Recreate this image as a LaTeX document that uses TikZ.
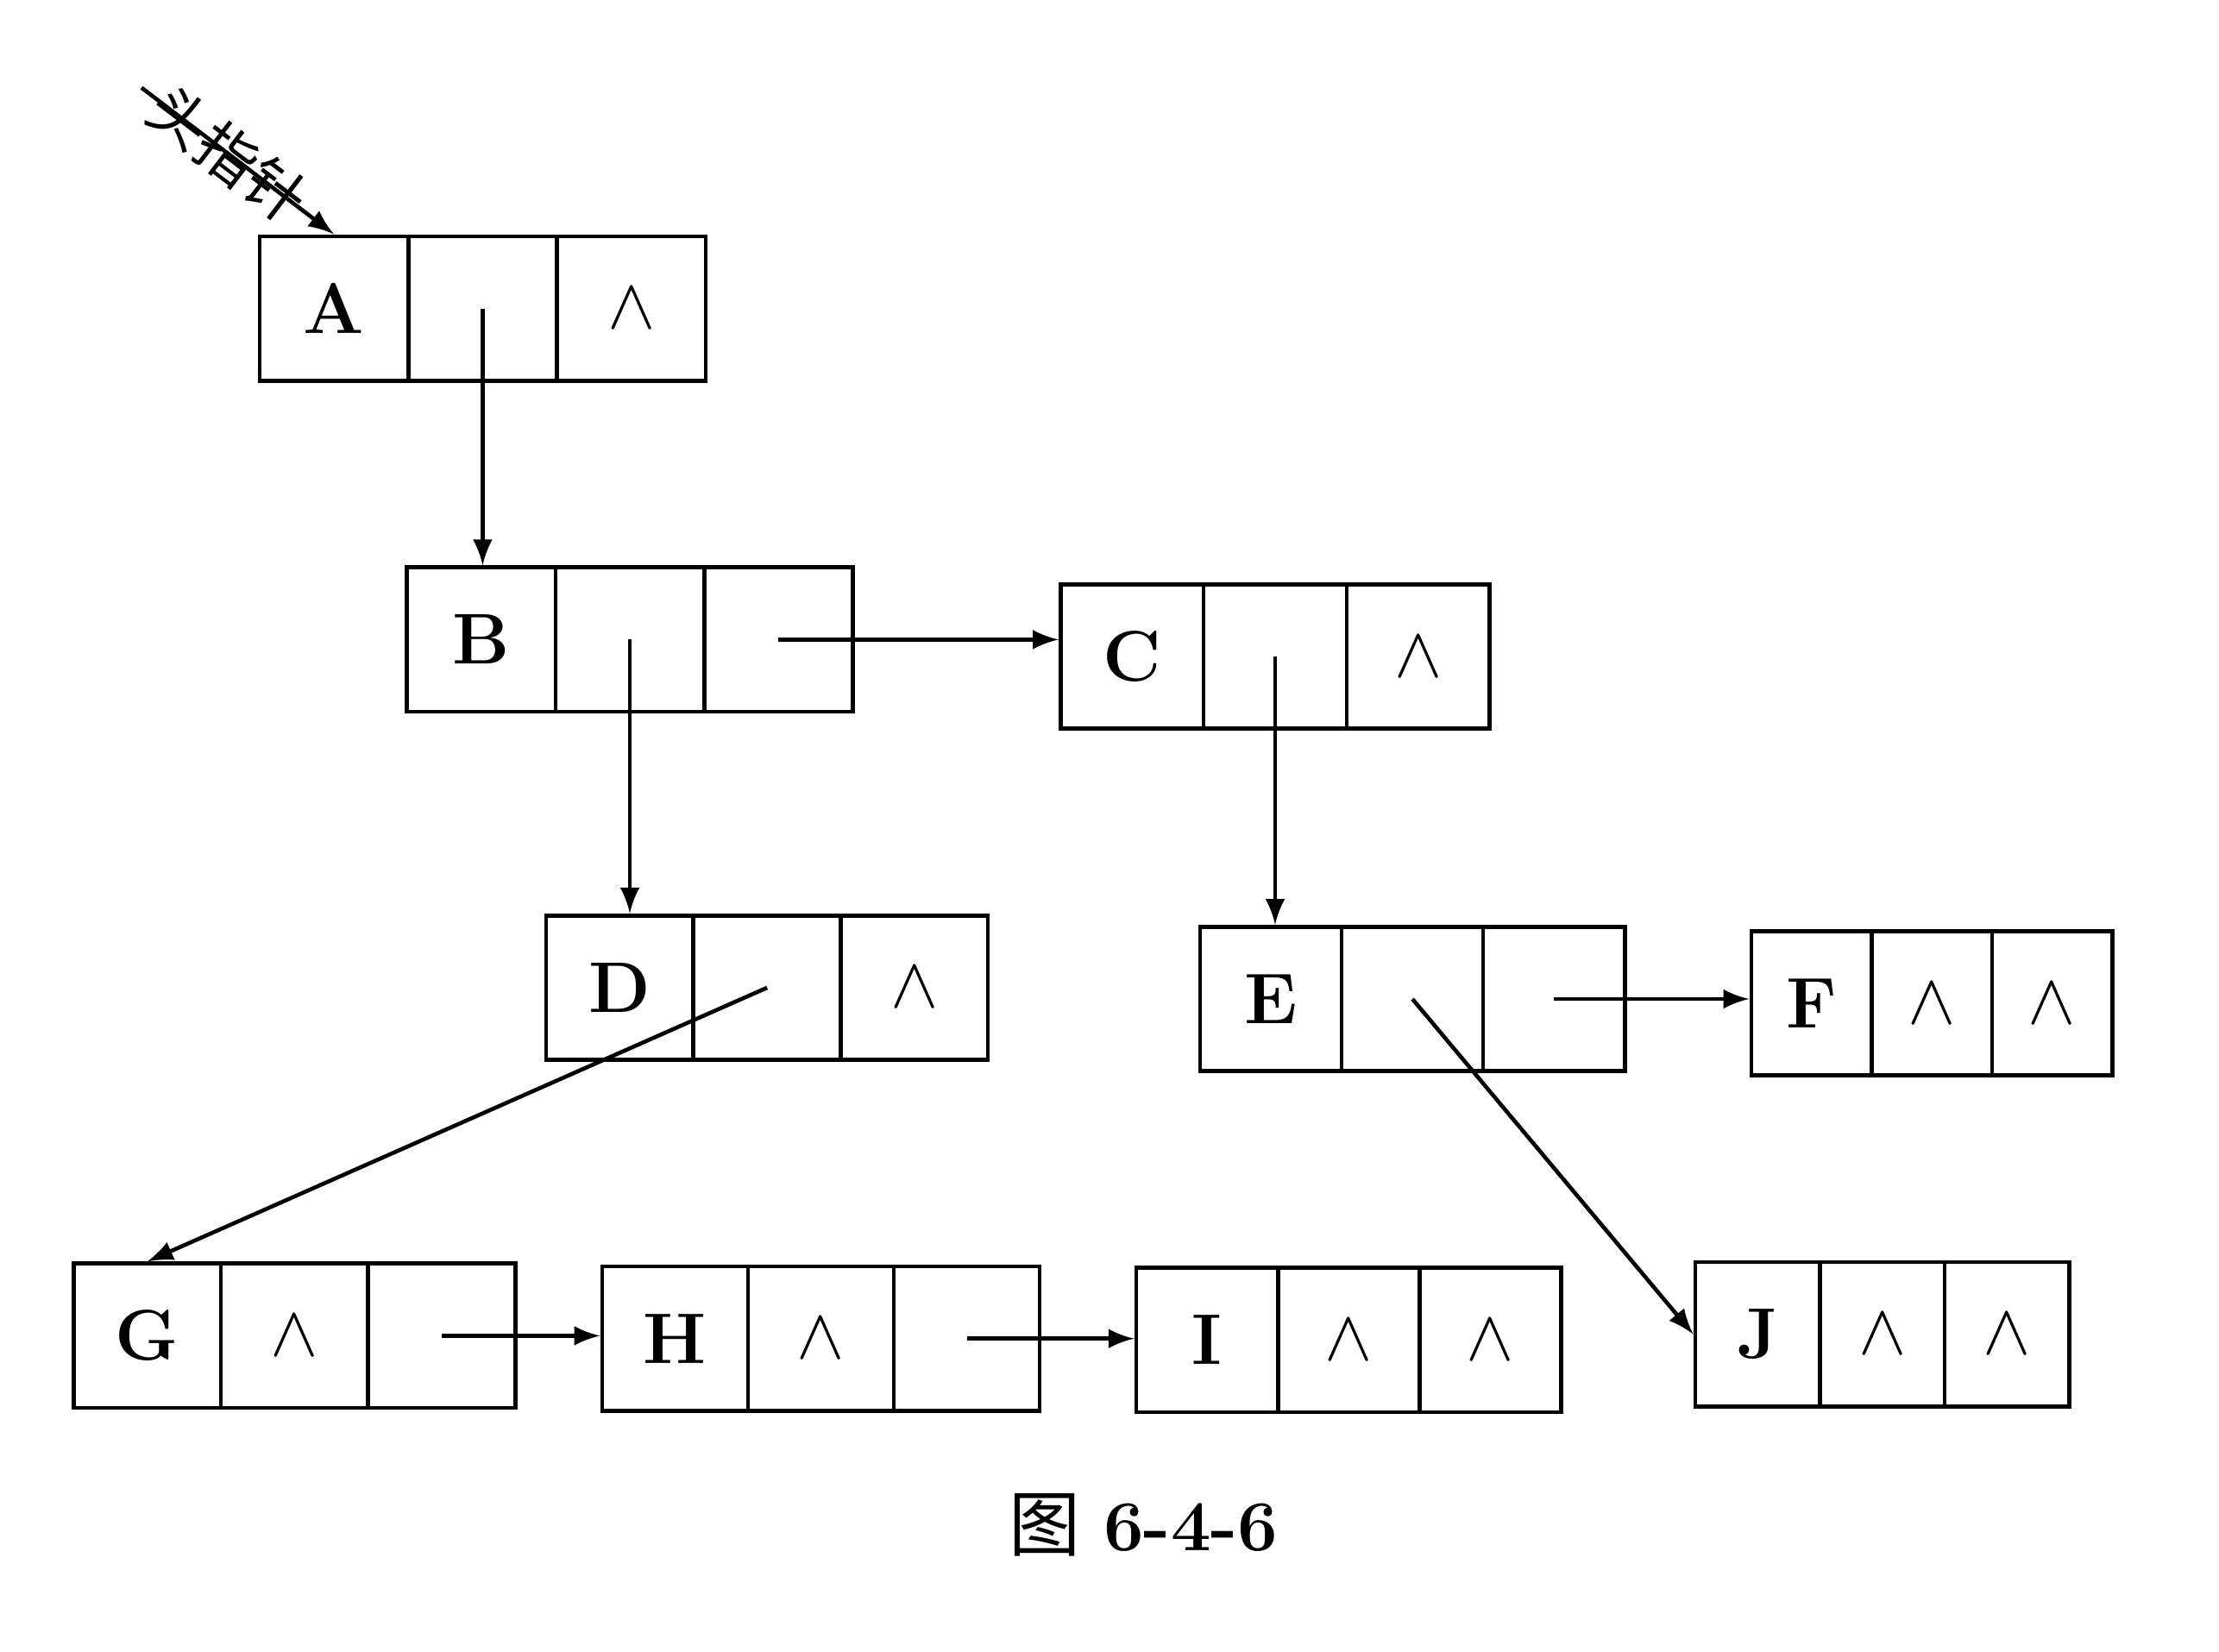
\documentclass[tikz,border=0pt]{standalone}
\usepackage{fontspec}
\newfontfamily\cjk{Noto Sans CJK SC}
\usetikzlibrary{positioning}
\usetikzlibrary{arrows}

\tikzset{
  cell/.style={draw, thick, minimum height=1.02cm, inner sep=0pt, font=\Large\bfseries},
  ptr/.style={thick, -latex}
}

% one list node: name, x, y, cell width, label, second and third cell
\newcommand{\listnode}[7]{%
  \node[cell, minimum width=#4cm] (#1a) at (#2,#3) {#5};
  \node[cell, minimum width=#4cm, right=-0.8pt of #1a] (#1b) {#6};
  \node[cell, minimum width=#4cm, right=-0.8pt of #1b] (#1c) {#7};
}

\begin{document}
\begin{tikzpicture}[x=0.01cm, y=-0.01cm]
	% page
	\useasboundingbox (0,0) rectangle (1568,1167);
	\fill[white] (0,0) rectangle (1568,1167);

	% the nodes
	\listnode{A}{236}{218}{1.05}{A}{}{$\wedge$}
	\listnode{B}{340}{452}{1.05}{B}{}{}
	\listnode{C}{800}{464}{1.01}{C}{}{$\wedge$}
	\listnode{D}{438}{698}{1.04}{D}{}{$\wedge$}
	\listnode{E}{898}{706}{1.00}{E}{}{}
	\listnode{F}{1280}{709}{0.85}{F}{$\wedge$}{$\wedge$}
	\listnode{G}{104}{944}{1.04}{G}{$\wedge$}{}
	\listnode{H}{477}{946}{1.03}{H}{$\wedge$}{}
	\listnode{I}{853}{947}{1.00}{I}{$\wedge$}{$\wedge$}
	\listnode{J}{1242}{943}{0.88}{J}{$\wedge$}{$\wedge$}

	% head pointer
	\coordinate (head) at (100,62);
	\draw[ptr] (head) -- node[sloped, pos=0.45, inner sep=1pt, font=\cjk\large] {头指针} (Aa.north);

	% the links
	\draw[ptr] (Ab.center) -- (Ab.center |- Ba.north);
	\draw[ptr] (Bb.center) -- (Bb.center |- Da.north);
	\draw[ptr] (Bc.center) -- (Bc.center -| Ca.west);
	\draw[ptr] (Cb.center) -- (Cb.center |- Ea.north);
	\draw[ptr] (Db.center) -- (Ga.north);
	\draw[ptr] (Ec.center) -- (Ec.center -| Fa.west);
	\draw[ptr] (Eb.center) -- (Ja.west);
	\draw[ptr] (Gc.center) -- (Gc.center -| Ha.west);
	\draw[ptr] (Hc.center) -- (Hc.center -| Ia.west);

	% caption
	\node[font=\Large] (cap) at (808,1078) {{\cjk 图} \textbf{6-4-6}};
\end{tikzpicture}
\end{document}
